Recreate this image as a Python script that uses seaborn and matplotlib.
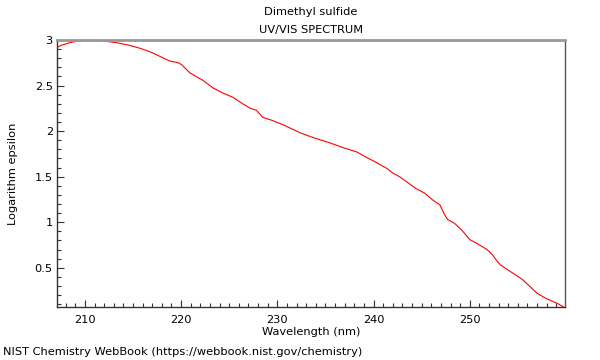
import matplotlib
matplotlib.use("Agg")
import matplotlib.pyplot as plt
from matplotlib.ticker import MultipleLocator
import seaborn as sns
import pandas as pd

wavelength = [207.1, 207.5, 208.4, 209.8, 210.8, 211.9, 213.3, 214.5, 215.7, 216.8, 217.8,
              218.8, 219.7, 220.05, 220.9, 222.3, 223.3, 224.3, 225.4, 226.4, 227.2, 227.8,
              228.5, 229.4, 230.6, 232.3, 233.7, 235.5, 236.8, 238.3, 239.3, 240.4, 241.4,
              242.0, 242.7, 243.5, 244.4, 245.3, 246.2, 246.9, 247.4, 247.7, 248.4, 249.2,
              250.0, 250.7, 251.8, 252.3, 252.8, 253.2, 254.5, 255.5, 256.1, 257.0, 258.0,
              259.1, 259.9]
log_eps = [2.92, 2.94, 2.97, 3.00, 3.00, 2.99, 2.97, 2.945, 2.91, 2.87, 2.82,
           2.77, 2.75, 2.73, 2.64, 2.555, 2.475, 2.42, 2.37, 2.30, 2.25, 2.23,
           2.15, 2.12, 2.07, 1.985, 1.93, 1.87, 1.82, 1.77, 1.71, 1.65, 1.59,
           1.54, 1.50, 1.44, 1.37, 1.32, 1.24, 1.19, 1.08, 1.03, 0.99, 0.91,
           0.81, 0.77, 0.70, 0.65, 0.58, 0.53, 0.44, 0.37, 0.31, 0.22, 0.16,
           0.11, 0.06]

df = pd.DataFrame({"Wavelength (nm)": wavelength, "Logarithm epsilon": log_eps})

sns.set_style("ticks")
plt.rcParams["font.family"] = ["DejaVu Sans"]
plt.rcParams["text.color"] = "black"
plt.rcParams["axes.labelcolor"] = "black"
plt.rcParams["xtick.color"] = "black"
plt.rcParams["ytick.color"] = "black"

fig = plt.figure(figsize=(6, 3.6), dpi=100)
ax = fig.add_axes([57/600, 1-307/360, (565-57)/600, (307-40)/360])

sns.lineplot(data=df, x="Wavelength (nm)", y="Logarithm epsilon", ax=ax,
             color="#ff0000", linewidth=0.8, sort=False)

fs = 8.2
ax.set_xlim(207.1, 259.9)
ax.set_ylim(0.07, 3.0)
ax.xaxis.set_major_locator(MultipleLocator(10))
ax.xaxis.set_minor_locator(MultipleLocator(1))
ax.yaxis.set_major_locator(MultipleLocator(0.5))
ax.yaxis.set_minor_locator(MultipleLocator(0.1))
ax.set_yticks([0.5, 1, 1.5, 2, 2.5, 3])
ax.set_yticklabels(["0.5", "1", "1.5", "2", "2.5", "3"])
ax.tick_params(which="both", direction="in", top=False, right=False, labelsize=fs,
               color="#333333", labelcolor="black")
ax.tick_params(which="major", length=5, width=0.8)
ax.tick_params(which="minor", length=3, width=0.8)
ax.tick_params(axis="x", which="major", pad=6)
ax.tick_params(axis="y", which="major", pad=3)

ax.set_xlabel("Wavelength (nm)", fontsize=fs, labelpad=1.5, color="black")
ax.set_ylabel("Logarithm epsilon", fontsize=fs, labelpad=12, color="black")

for side in ["left", "bottom"]:
    ax.spines[side].set_color("#333333")
    ax.spines[side].set_linewidth(1.0)
ax.spines["top"].set_color("#999999")
ax.spines["top"].set_linewidth(2.0)
ax.spines["right"].set_color("#555555")
ax.spines["right"].set_linewidth(1.0)
ax.spines["top"].set_visible(True)
ax.spines["right"].set_visible(True)

fig.text(311/600, 1-12/360, "Dimethyl sulfide", ha="center", va="center", fontsize=fs, color="black")
fig.text(311/600, 1-30/360, "UV/VIS SPECTRUM", ha="center", va="center", fontsize=fs, color="black")
fig.text(3/600, 1-352/360, "NIST Chemistry WebBook (https://webbook.nist.gov/chemistry)",
         ha="left", va="center", fontsize=fs, color="black")

fig.savefig("out.png", dpi=100)
